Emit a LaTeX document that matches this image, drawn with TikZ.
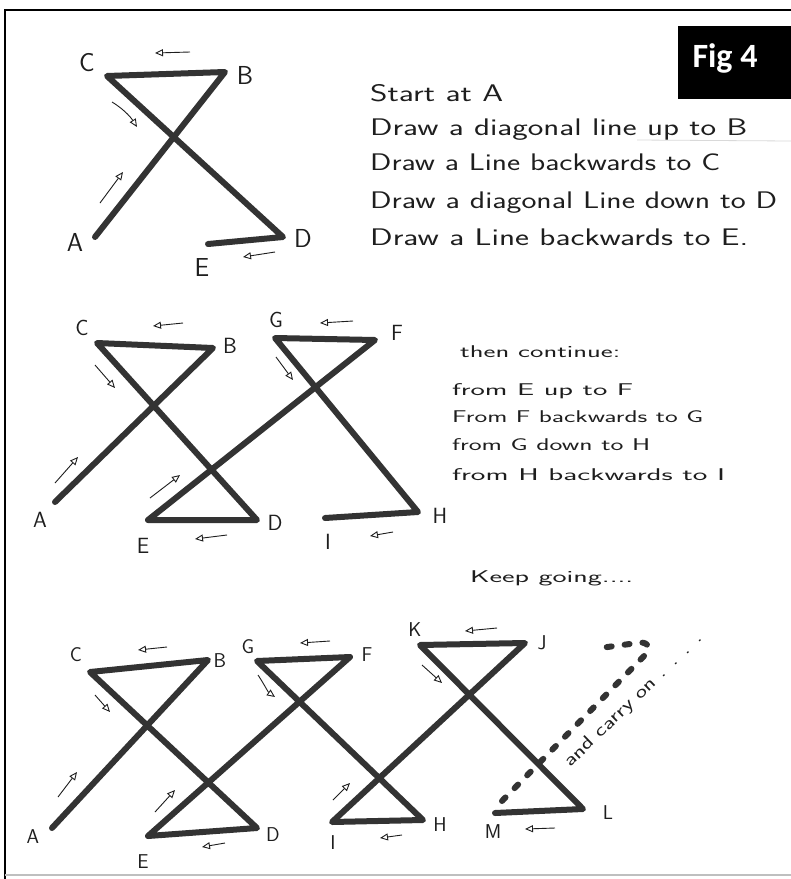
\documentclass[tikz,border=0pt]{standalone}
\usepackage{fontspec}
\newfontfamily\figfont{Carlito}
\usetikzlibrary{arrows.meta}
\definecolor{ink}{HTML}{333333}
\definecolor{pen}{HTML}{1E1E1E}
\newsavebox\hwbox
\newlength\hwlen
\newcommand\hwfit[3]{\fontsize{#2}{#2}\selectfont\sbox\hwbox{#3}\setlength\hwlen{\wd\hwbox}\pgfmathsetmacro\hwscale{#1/\hwlen}\scalebox{\hwscale}[1]{\usebox\hwbox}}
\tikzset{
  stroke/.style={line width=6pt, draw=ink, line cap=round, line join=round},
  sarrow/.style={line width=0.9pt, draw=pen, -{Triangle[open,length=8pt,width=7pt]}},
  labA/.style={font=\sffamily\fontsize{26}{26}\selectfont, text=pen, inner sep=0pt},
  labB/.style={font=\sffamily\fontsize{22}{22}\selectfont, text=pen, inner sep=0pt},
  labC/.style={font=\sffamily\fontsize{20}{20}\selectfont, text=pen, inner sep=0pt},
  hw/.style={anchor=base west, inner sep=0pt, text=pen, font=\sffamily},
  dotline/.style={line width=6pt, draw=ink, line cap=round, dash pattern=on 5pt off 13pt},
}
\begin{document}
\begin{tikzpicture}[x=1pt,y=-1pt]
\useasboundingbox (0,0) rectangle (791,879);
\fill[white] (0,0) rectangle (791,879);
% frame
\draw[line width=2pt, black] (5,879) -- (5,10) -- (791,10);
\draw[line width=1.5pt, black!25] (5,875) -- (791,875);
\draw[line width=0.8pt, black!15] (637,140) -- (791,141);
% Fig 4 box
\fill[black] (678,26) rectangle (791,99);
\node[text=white, font=\figfont\bfseries\fontsize{34}{34}\selectfont, inner sep=0pt] (fig) at (725,58) {Fig 4};

% ---------- top figure ----------
\coordinate (a1) at (95,237);
\coordinate (b1) at (225,72);
\coordinate (c1) at (107,76);
\coordinate (d1) at (283,237);
\coordinate (e1) at (208,244);
\draw[stroke] (a1) -- (b1) -- (c1) -- (d1) -- (e1);
\node[labA] (la1) at (75,242) {A};
\node[labA] (lb1) at (245,75) {B};
\node[labA] (lc1) at (87,63) {C};
\node[labA] (ld1) at (303,238) {D};
\node[labA] (le1) at (202,267) {E};
\draw[sarrow] (190,52) -- (155,53);
\draw[sarrow] (112,102) .. controls (122,108) and (130,116) .. (137,127);
\draw[sarrow] (100,203) -- (123,172);
\draw[sarrow] (275,252) -- (243,257);

\node[hw] (t1) at (370,101) {\hwfit{133}{24}{Start at A}};
\node[hw] (t2) at (370,135) {\hwfit{377}{24}{Draw a diagonal line up to B}};
\node[hw] (t3) at (370,170) {\hwfit{350}{24}{Draw a Line backwards to C}};
\node[hw] (t4) at (370,208) {\hwfit{407}{24}{Draw a diagonal Line down to D}};
\node[hw] (t5) at (370,245) {\hwfit{378}{24}{Draw a Line backwards to E.}};

% ---------- middle figure ----------
\coordinate (a2) at (55,502);
\coordinate (b2) at (213,348);
\coordinate (c2) at (97,343);
\coordinate (d2) at (257,520);
\coordinate (e2) at (148,520);
\coordinate (f2) at (375,340);
\coordinate (g2) at (275,338);
\coordinate (h2) at (418,512);
\coordinate (i2) at (325,518);
\draw[stroke] (a2) -- (b2) -- (c2) -- (d2) -- (e2) -- (f2) -- (g2) -- (h2) -- (i2);
\node[labB] (la2) at (40,520) {A};
\node[labB] (lb2) at (230,346) {B};
\node[labB] (lc2) at (82,328) {C};
\node[labB] (ld2) at (275,523) {D};
\node[labB] (le2) at (143,546) {E};
\node[labB] (lf2) at (397,333) {F};
\node[labB] (lg2) at (276,320) {G};
\node[labB] (lh2) at (440,516) {H};
\node[labB] (li2) at (328,542) {I};
\draw[sarrow] (183,323) -- (153,326);
\draw[sarrow] (353,321) -- (320,323);
\draw[sarrow] (95,365) -- (115,388);
\draw[sarrow] (276,357) -- (293,380);
\draw[sarrow] (55,483) -- (78,457);
\draw[sarrow] (150,498) -- (180,475);
\draw[sarrow] (227,535) -- (195,539);
\draw[sarrow] (393,532) -- (370,536);

\node[hw] (m1) at (460,357) {\hwfit{160}{17}{then continue:}};
\node[hw] (m2) at (452,395) {\hwfit{181}{17}{from E up to F}};
\node[hw] (m3) at (452,422) {\hwfit{251}{17}{From F backwards to G}};
\node[hw] (m4) at (452,450) {\hwfit{198}{17}{from G down to H}};
\node[hw] (m5) at (452,480) {\hwfit{273}{17}{from H backwards to I}};
\node[hw] (m6) at (470,582) {\hwfit{163}{17}{Keep going....}};

% ---------- bottom figure ----------
\coordinate (a3) at (52,828);
\coordinate (b3) at (208,660);
\coordinate (c3) at (90,672);
\coordinate (d3) at (257,828);
\coordinate (e3) at (148,836);
\coordinate (f3) at (350,657);
\coordinate (g3) at (257,661);
\coordinate (h3) at (423,820);
\coordinate (i3) at (332,822);
\coordinate (j3) at (525,643);
\coordinate (k3) at (420,645);
\coordinate (l3) at (583,809);
\coordinate (m3) at (495,813);
\draw[stroke] (a3) -- (b3) -- (c3) -- (d3) -- (e3) -- (f3) -- (g3) -- (h3) -- (i3) -- (j3) -- (k3) -- (l3) -- (m3);
\coordinate (dot0) at (502,801);
\coordinate (dot1) at (646,654);
\coordinate (dot2) at (600,648);
\draw[dotline] (dot0) -- (dot1) .. controls (652,646) and (646,641) .. (637,643) -- (dot2);
\node[labC] (la3) at (33,837) {A};
\node[labC] (lb3) at (220,661) {B};
\node[labC] (lc3) at (76,655) {C};
\node[labC] (ld3) at (273,835) {D};
\node[labC] (le3) at (143,862) {E};
\node[labC] (lf3) at (367,655) {F};
\node[labC] (lg3) at (248,647) {G};
\node[labC] (lh3) at (440,825) {H};
\node[labC] (li3) at (333,843) {I};
\node[labC] (lj3) at (542,643) {J};
\node[labC] (lk3) at (415,630) {K};
\node[labC] (ll3) at (608,813) {L};
\node[labC] (lm3) at (493,832) {M};
\draw[sarrow] (167,647) -- (138,650);
\draw[sarrow] (330,641) -- (300,643);
\draw[sarrow] (497,628) -- (465,631);
\draw[sarrow] (95,695) -- (110,712);
\draw[sarrow] (258,675) .. controls (264,684) and (268,692) .. (275,697);
\draw[sarrow] (422,665) -- (442,683);
\draw[sarrow] (58,797) -- (77,772);
\draw[sarrow] (155,812) -- (175,790);
\draw[sarrow] (333,800) -- (350,783);
\draw[sarrow] (225,843) -- (202,847);
\draw[sarrow] (402,835) -- (380,838);
\draw[sarrow] (555,828) -- (525,829);

\node[hw, rotate=44] (carry) at (570,768) {\hwfit{185}{18}{and carry on . . . .}};
\end{tikzpicture}
\end{document}
